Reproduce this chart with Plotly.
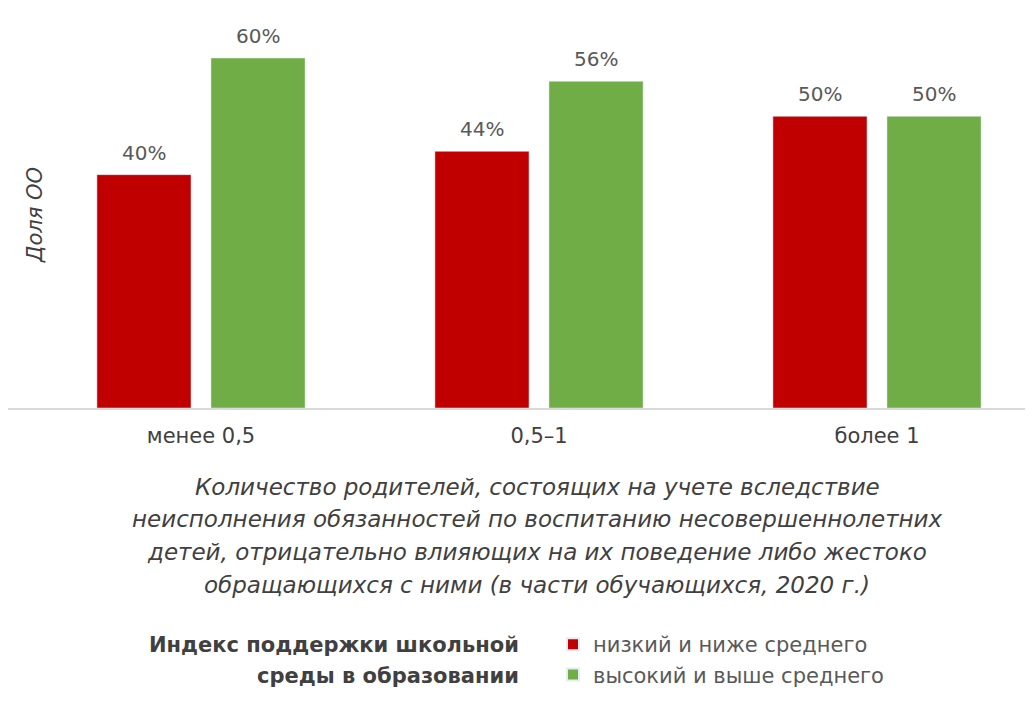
import plotly.graph_objects as go

categories = ["менее 0,5", "0,5–1", "более 1"]
low_vals = [40, 44, 50]
high_vals = [60, 56, 50]
series_names = ["низкий и ниже среднего", "высокий и выше среднего"]
x_title_lines = [
    "Количество родителей, состоящих на учете вследствие",
    "неисполнения обязанностей по воспитанию несовершеннолетних",
    "детей, отрицательно влияющих на их поведение либо жестоко",
    "обращающихся с ними (в части обучающихся, 2020 г.)",
]
legend_title_lines = ["Индекс поддержки школьной", "среды в образовании"]
y_title = "Доля ОО"

FONT = "DejaVu Sans"
OFF = 8                      # page body margin of the html page
W, H = 1033 - OFF, 704 - OFF
BASE = 408                   # baseline, page px
PLOT_H = BASE - OFF
PX_PER_UNIT = 350 / 60
BARGAP = 0.325
GROUPGAP = 0.175
CAT_STEP = 338
FIRST_CENTER = 201 - OFF


def px(x):
    return (x - OFF) / W


def py(y):
    return (BASE - y) / PLOT_H


fig = go.Figure()
fig.add_trace(go.Bar(x=list(range(len(categories))), y=low_vals, name=series_names[0],
                     marker=dict(color="#C00000")))
fig.add_trace(go.Bar(x=list(range(len(categories))), y=high_vals, name=series_names[1],
                     marker=dict(color="#70AD47")))

annotations = []
off = (1 - BARGAP) / 4
for vals, sgn in ((low_vals, -1), (high_vals, 1)):
    for i, v in enumerate(vals):
        annotations.append(dict(text=f"{v}%", x=i + sgn * off, y=v, xref="x", yref="y",
                                xanchor="center", yanchor="bottom", yshift=8,
                                showarrow=False,
                                font=dict(family=FONT, size=20, color="#595959")))

for line, ypx in zip(x_title_lines, [487, 519, 552, 585]):
    annotations.append(dict(text=f"<i>{line}</i>", xref="paper", yref="paper",
                            x=px(537), y=py(ypx),
                            xanchor="center", yanchor="middle", showarrow=False,
                            font=dict(family=FONT, size=23, color="#404040")))
for line, ypx in zip(legend_title_lines, [645, 676]):
    annotations.append(dict(text=f"<b>{line}</b>", xref="paper", yref="paper",
                            x=px(521), y=py(ypx),
                            xanchor="right", yanchor="middle", showarrow=False,
                            font=dict(family=FONT, size=21, color="#404040")))
annotations.append(dict(text=f"<i>{y_title}</i>", xref="paper", yref="paper",
                        x=px(35), y=py(215), textangle=-90,
                        xanchor="center", yanchor="middle", showarrow=False,
                        font=dict(family=FONT, size=21, color="#404040")))

fig.update_layout(
    width=W, height=H,
    margin=dict(l=0, r=0, t=0, b=H - PLOT_H, pad=0, autoexpand=False),
    plot_bgcolor="white", paper_bgcolor="white",
    barmode="group", bargap=BARGAP, bargroupgap=GROUPGAP,
    showlegend=True,
    legend=dict(x=px(553), y=py(624), xanchor="left", yanchor="top",
                font=dict(family=FONT, size=21, color="#595959"),
                itemsizing="constant", bgcolor="rgba(0,0,0,0)"),
    annotations=annotations,
)
fig.update_xaxes(range=[-FIRST_CENTER / CAT_STEP, (W - FIRST_CENTER) / CAT_STEP],
                 showline=True, linecolor="#D9D9D9", linewidth=2, ticks="",
                 automargin=False, tickmode="array",
                 tickvals=list(range(len(categories))), ticktext=categories,
                 showgrid=False, zeroline=False, ticklabelstandoff=8,
                 tickfont=dict(family=FONT, size=21, color="#404040"))
fig.update_yaxes(range=[0, PLOT_H / PX_PER_UNIT], showgrid=False,
                 showticklabels=False, zeroline=False, automargin=False)

fig.write_html("out.html")
